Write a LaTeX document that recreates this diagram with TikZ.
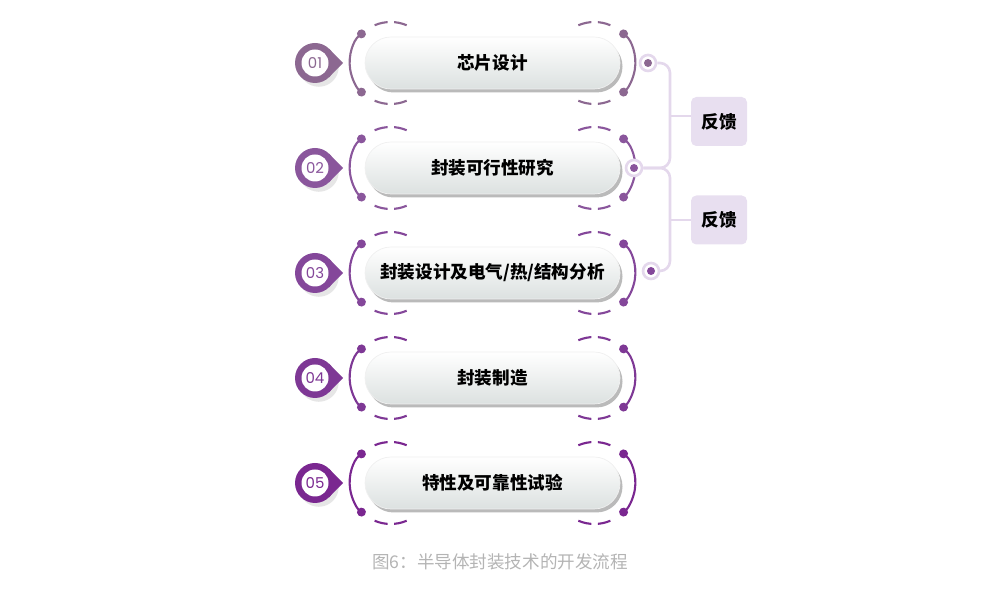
\documentclass[tikz,border=0pt]{standalone}
\usepackage{fontspec}
\usepackage{tikz}
\usetikzlibrary{shadows,arrows.meta}
\newfontfamily\cjk{Noto Sans CJK SC}
\newfontfamily\numfont{Poppins}
\definecolor{ca}{HTML}{8C6891}
\definecolor{cb}{HTML}{8A569C}
\definecolor{cc}{HTML}{84479A}
\definecolor{cd}{HTML}{7E3895}
\definecolor{ce}{HTML}{7A2790}
\definecolor{pillgray}{HTML}{DCE1E0}
\definecolor{fbcol}{HTML}{E4D8EC}
\definecolor{fbfill}{HTML}{E8DFF0}
\definecolor{capgray}{HTML}{B4B4B4}
\tikzstyle{pill} = [rounded corners=0.52cm, minimum width=5.1cm, minimum height=1.04cm, draw=gray!12, top color=white, bottom color=pillgray, drop shadow={shadow xshift=0.05cm, shadow yshift=-0.07cm, opacity=0.45, fill=gray!80!black}, font=\cjk\bfseries\fontsize{10}{12}\selectfont]
\tikzstyle{badge} = [circle, minimum size=0.8cm, inner sep=0pt, outer sep=0pt]
\tikzstyle{num} = [circle, fill=white, minimum size=0.54cm, inner sep=0pt, font=\numfont\fontsize{8.5}{10}\selectfont]
\tikzstyle{ring} = [circle, draw=fbcol, line width=1.5pt, fill=white, minimum size=0.32cm, inner sep=0pt]
\tikzstyle{fbline} = [draw=fbcol, line width=1.5pt, rounded corners=0.2cm]
\tikzstyle{fbbox} = [rounded corners=3pt, fill=fbfill, minimum width=1.12cm, minimum height=0.98cm, font=\cjk\bfseries\fontsize{10}{12}\selectfont]
\tikzstyle{bracket} = [line width=1.2pt, {Circle[length=5pt]}-{Circle[length=5pt]}]
\tikzstyle{dashes} = [line width=1.2pt, dash pattern=on 0.27cm off 0.13cm]

\begin{document}
\begin{tikzpicture}
    \useasboundingbox (0,0) rectangle (20,11.78);
    % steps
    \node[pill] (s1) at (9.85,10.52) {芯片设计};
    \node[pill] (s2) at (9.85,8.42) {封装可行性研究};
    \node[pill] (s3) at (9.85,6.32) {封装设计及电气/热/结构分析};
    \node[pill] (s4) at (9.85,4.22) {封装制造};
    \node[pill] (s5) at (9.85,2.12) {特性及可靠性试验};
    % brackets round the steps
    \foreach \i/\c in {1/ca,2/cb,3/cc,4/cd,5/ce} {
        \draw[\c, bracket] ([xshift=0.52cm]s\i.west) ++(129:0.82) arc[start angle=129, end angle=231, radius=0.82];
        \draw[\c, bracket] ([xshift=-0.52cm]s\i.east) ++(51:0.82) arc[start angle=51, end angle=-51, radius=0.82];
        \draw[\c, dashes] ([xshift=0.52cm]s\i.west) ++(113:0.82) arc[start angle=113, end angle=67, radius=0.82];
        \draw[\c, dashes] ([xshift=0.52cm]s\i.west) ++(247:0.82) arc[start angle=247, end angle=293, radius=0.82];
        \draw[\c, dashes] ([xshift=-0.52cm]s\i.east) ++(113:0.82) arc[start angle=113, end angle=67, radius=0.82];
        \draw[\c, dashes] ([xshift=-0.52cm]s\i.east) ++(247:0.82) arc[start angle=247, end angle=293, radius=0.82];
    }
    % numbers
    \node[badge, fill=ca, drop shadow={opacity=0.2}] (b1) at (6.3,10.52) {};
    \node[badge, fill=cb, drop shadow={opacity=0.2}] (b2) at (6.3,8.42) {};
    \node[badge, fill=cc, drop shadow={opacity=0.2}] (b3) at (6.3,6.32) {};
    \node[badge, fill=cd, drop shadow={opacity=0.2}] (b4) at (6.3,4.22) {};
    \node[badge, fill=ce, drop shadow={opacity=0.2}] (b5) at (6.3,2.12) {};
    \fill[ca] (b1.45) -- ([xshift=0.56cm]b1.center) -- (b1.-45) -- cycle;
    \fill[cb] (b2.45) -- ([xshift=0.56cm]b2.center) -- (b2.-45) -- cycle;
    \fill[cc] (b3.45) -- ([xshift=0.56cm]b3.center) -- (b3.-45) -- cycle;
    \fill[cd] (b4.45) -- ([xshift=0.56cm]b4.center) -- (b4.-45) -- cycle;
    \fill[ce] (b5.45) -- ([xshift=0.56cm]b5.center) -- (b5.-45) -- cycle;
    \node[num, text=ca] (n1) at (b1) {01};
    \node[num, text=cb] (n2) at (b2) {02};
    \node[num, text=cc] (n3) at (b3) {03};
    \node[num, text=cd] (n4) at (b4) {04};
    \node[num, text=ce] (n5) at (b5) {05};
    % feedback
    \node[fbbox] (fk1) at (14.38,9.35) {反馈};
    \node[fbbox] (fk2) at (14.38,7.38) {反馈};
    \coordinate (fb) at (13.4,8.42);
    \coordinate (fa) at (13.4,9.46);
    \coordinate (fc) at (13.4,7.38);
    \node[ring] (r1) at (12.96,10.52) {};
    \node[ring] (r2) at (12.68,8.42) {};
    \node[ring] (r3) at (13.02,6.36) {};
    \draw[fbline] (r1) -- (r1 -| fb) -- (fb) -- (r2);
    \draw[fbline] (r2) -- (fb) -- (fb |- r3) -- (r3);
    \draw[fbline] (fa) -- (fa -| fk1.west);
    \draw[fbline] (fc) -- (fk2);
    \fill[ca] (r1) circle (0.08);
    \fill[cb] (r2) circle (0.08);
    \fill[cc] (r3) circle (0.08);
    \node[font=\cjk\fontsize{10}{12}\selectfont, text=capgray] (cap) at (10.0,0.54) {图6：半导体封装技术的开发流程};
\end{tikzpicture}
\end{document}
